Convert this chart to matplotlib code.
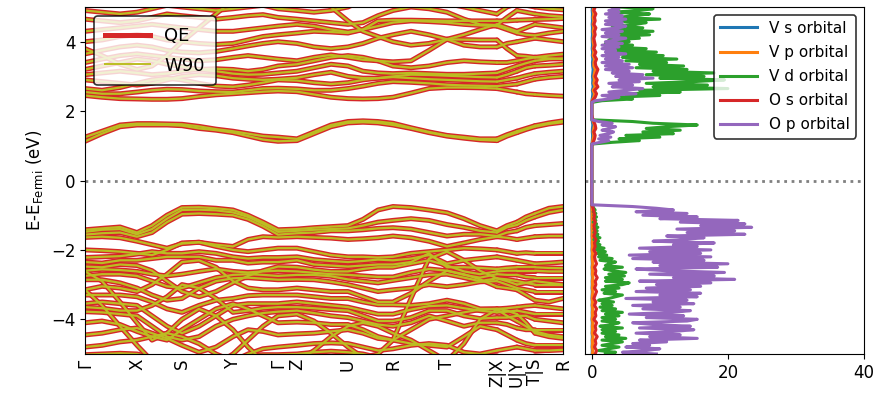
import numpy as np
import matplotlib
matplotlib.use("Agg")
import matplotlib.pyplot as plt
from matplotlib.lines import Line2D

# ── k-path: Γ-X-S-Y-Γ-Z-U-R-T-Z | X-U | Y-T | S-R ───────────────────────────
k_ticks  = [0.00, 0.52, 0.97, 1.48, 1.93, 2.12, 2.63, 3.08, 3.62, 4.12, 4.32, 4.50, 4.78]
k_labels = ["Γ", "X", "S", "Y", "Γ", "Z", "U", "R", "T", "Z|X", "U|Y", "T|S", "R"]

k_nodes = [0.00, 0.17, 0.35, 0.52, 0.67, 0.82, 0.97, 1.14, 1.31, 1.48, 1.63, 1.78,
           1.93, 2.12, 2.29, 2.46, 2.63, 2.78, 2.93, 3.08, 3.26, 3.44, 3.62, 3.79,
           3.95, 4.12,
           4.12, 4.22, 4.32,
           4.32, 4.41, 4.50,
           4.50, 4.64, 4.78]
segments = [(0, 26), (26, 29), (29, 32), (32, 35)]

# band energies in eV (E - E_F); 26 nodes on the main path, then 3 + 3 + 3
conduction = [
    [1.13, 1.35, 1.55, 1.60, 1.60, 1.60, 1.58, 1.50, 1.45, 1.38, 1.28, 1.18, 1.13, 1.15, 1.35, 1.55, 1.66, 1.68, 1.66, 1.60, 1.50, 1.38, 1.28, 1.22, 1.17, 1.15,
     1.15, 1.28, 1.38, 1.38, 1.47, 1.55, 1.55, 1.63, 1.68],
    [1.25, 1.42, 1.60, 1.64, 1.64, 1.63, 1.62, 1.56, 1.48, 1.42, 1.35, 1.28, 1.25, 1.20, 1.40, 1.60, 1.70, 1.72, 1.70, 1.65, 1.52, 1.40, 1.30, 1.25, 1.20, 1.20,
     1.20, 1.32, 1.42, 1.42, 1.50, 1.58, 1.58, 1.66, 1.72],
    [2.45, 2.40, 2.36, 2.35, 2.34, 2.34, 2.36, 2.42, 2.47, 2.50, 2.53, 2.56, 2.58, 2.56, 2.48, 2.40, 2.36, 2.35, 2.36, 2.40, 2.52, 2.65, 2.68, 2.68, 2.67, 2.65,
     2.65, 2.60, 2.55, 2.55, 2.50, 2.48, 2.48, 2.45, 2.43],
    [2.55, 2.50, 2.50, 2.55, 2.60, 2.63, 2.62, 2.58, 2.56, 2.55, 2.60, 2.65, 2.66, 2.64, 2.60, 2.60, 2.65, 2.72, 2.80, 2.85, 2.83, 2.80, 2.76, 2.74, 2.73, 2.72,
     2.72, 2.75, 2.78, 2.78, 2.85, 2.92, 2.92, 2.97, 3.00],
    [2.65, 2.60, 2.68, 2.80, 2.90, 2.95, 2.90, 2.80, 2.72, 2.70, 2.75, 2.82, 2.90, 2.88, 2.82, 2.78, 2.82, 2.90, 2.95, 2.98, 2.95, 2.92, 2.90, 2.88, 2.86, 2.85,
     2.85, 2.90, 2.95, 2.95, 3.02, 3.08, 3.08, 3.12, 3.15],
    [2.90, 2.85, 2.80, 2.75, 2.80, 2.90, 3.00, 3.05, 3.02, 2.95, 2.92, 2.90, 2.92, 2.96, 3.05, 3.12, 3.00, 2.95, 2.95, 3.00, 3.05, 3.04, 3.02, 3.00, 2.98, 2.97,
     2.97, 3.05, 3.15, 3.15, 3.25, 3.30, 3.30, 3.32, 3.35],
    [3.05, 3.10, 3.15, 3.10, 3.05, 3.08, 3.15, 3.20, 3.15, 3.08, 3.05, 3.06, 3.10, 3.15, 3.25, 3.35, 3.30, 3.15, 3.10, 3.08, 3.10, 3.08, 3.06, 3.06, 3.08, 3.10,
     3.10, 3.20, 3.30, 3.30, 3.38, 3.45, 3.45, 3.50, 3.52],
    [3.20, 3.30, 3.40, 3.50, 3.45, 3.35, 3.28, 3.20, 3.22, 3.20, 3.15, 3.20, 3.30, 3.35, 3.45, 3.55, 3.60, 3.55, 3.45, 3.30, 3.25, 3.30, 3.40, 3.45, 3.42, 3.40,
     3.40, 3.40, 3.45, 3.45, 3.50, 3.55, 3.55, 3.60, 3.64],
    [3.40, 3.50, 3.60, 3.65, 3.60, 3.55, 3.50, 3.45, 3.48, 3.55, 3.60, 3.55, 3.50, 3.45, 3.55, 3.62, 3.55, 3.48, 3.45, 3.42, 3.45, 3.75, 4.07, 4.06, 4.05, 4.05,
     4.05, 3.80, 3.60, 3.60, 3.58, 3.55, 3.55, 3.52, 3.50],
    [3.65, 3.75, 3.85, 3.90, 3.85, 3.75, 3.70, 3.68, 3.72, 3.80, 3.88, 3.95, 4.00, 3.95, 3.85, 3.80, 3.85, 3.95, 4.10, 4.20, 4.30, 4.20, 4.07, 3.90, 3.85, 3.85,
     3.85, 3.95, 4.00, 4.00, 4.05, 4.10, 4.10, 4.05, 4.00],
    [4.00, 4.05, 4.15, 4.20, 4.15, 4.05, 4.00, 3.95, 3.92, 3.95, 4.05, 4.15, 4.20, 4.25, 4.30, 4.28, 4.25, 4.35, 4.45, 4.55, 4.60, 4.58, 4.55, 4.50, 4.47, 4.45,
     4.45, 4.35, 4.25, 4.25, 4.20, 4.18, 4.18, 4.25, 4.30],
    [4.30, 4.35, 4.40, 4.45, 4.50, 4.45, 4.40, 4.35, 4.30, 4.30, 4.35, 4.40, 4.45, 4.50, 4.45, 4.35, 4.28, 4.35, 4.60, 4.62, 4.62, 4.61, 4.60, 4.60, 4.60, 4.60,
     4.60, 4.60, 4.62, 4.62, 4.63, 4.64, 4.64, 4.65, 4.67],
    [4.65, 4.60, 4.55, 4.60, 4.70, 4.80, 4.75, 4.70, 4.65, 4.70, 4.75, 4.78, 4.70, 4.65, 4.60, 4.55, 4.50, 4.55, 4.75, 4.90, 5.00, 4.95, 4.85, 4.65, 4.50, 4.48,
     4.48, 4.70, 4.90, 4.90, 4.85, 4.80, 4.80, 4.75, 4.72],
    [4.90, 4.85, 4.80, 4.85, 4.95, 5.05, 5.00, 4.95, 4.90, 4.95, 5.00, 5.05, 4.95, 4.90, 4.85, 4.90, 5.00, 5.20, 5.30, 5.30, 5.30, 5.20, 5.10, 5.00, 4.90, 4.80,
     4.80, 5.00, 5.10, 5.10, 5.05, 5.00, 5.00, 4.95, 4.92],
    [3.80, 3.60, 3.35, 3.20, 3.30, 3.60, 4.00, 4.40, 4.80, 5.20, 5.40, 5.50, 5.50, 5.50, 5.30, 5.00, 4.60, 4.30, 4.15, 4.00, 3.90, 3.95, 4.07, 4.20, 4.35, 4.50,
     4.50, 4.40, 4.30, 4.30, 4.40, 4.50, 4.50, 4.45, 4.40],
]

valence = [
    [-1.42, -1.38, -1.34, -1.50, -1.30, -1.00, -0.78, -0.77, -0.80, -0.85, -1.00, -1.20, -1.42, -1.40, -1.36, -1.33, -1.30, -1.12, -0.85, -0.75, -0.78, -0.85, -0.93, -1.10, -1.30, -1.45,
     -1.45, -1.30, -1.20, -1.20, -1.05, -0.95, -0.95, -0.80, -0.75],
    [-1.48, -1.42, -1.40, -1.55, -1.40, -1.10, -0.85, -0.84, -0.86, -0.92, -1.05, -1.25, -1.48, -1.45, -1.42, -1.40, -1.38, -1.30, -1.20, -1.15, -1.10, -1.15, -1.27, -1.35, -1.45, -1.50,
     -1.50, -1.35, -1.28, -1.28, -1.15, -1.05, -1.05, -0.92, -0.85],
    [-1.56, -1.52, -1.50, -1.62, -1.50, -1.20, -0.97, -0.95, -0.97, -1.00, -1.12, -1.32, -1.56, -1.52, -1.50, -1.45, -1.45, -1.42, -1.38, -1.36, -1.40, -1.50, -1.60, -1.55, -1.55, -1.60,
     -1.60, -1.50, -1.45, -1.45, -1.35, -1.30, -1.30, -1.27, -1.24],
    [-1.64, -1.62, -1.65, -1.75, -1.85, -1.95, -1.82, -1.78, -1.85, -1.90, -1.70, -1.62, -1.64, -1.62, -1.64, -1.66, -1.70, -1.68, -1.65, -1.60, -1.65, -1.75, -1.90, -1.80, -1.70, -1.62,
     -1.62, -1.65, -1.70, -1.70, -1.66, -1.62, -1.62, -1.60, -1.60],
    [-2.00, -2.02, -2.05, -2.10, -2.15, -2.00, -1.80, -1.78, -1.90, -2.00, -2.05, -2.00, -1.95, -1.95, -2.05, -2.15, -2.20, -2.20, -2.22, -2.20, -2.10, -2.05, -2.00, -1.95, -1.97, -2.00,
     -2.00, -2.05, -2.10, -2.10, -2.08, -2.10, -2.10, -2.10, -2.10],
    [-2.22, -2.20, -2.18, -2.12, -2.05, -2.10, -2.10, -2.05, -2.10, -2.20, -2.25, -2.22, -2.22, -2.20, -2.28, -2.32, -2.35, -2.32, -2.28, -2.30, -2.25, -2.15, -2.40, -2.30, -2.25, -2.20,
     -2.20, -2.25, -2.30, -2.30, -2.35, -2.40, -2.40, -2.38, -2.35],
    [-2.35, -2.38, -2.30, -2.30, -2.25, -2.20, -2.20, -2.20, -2.30, -2.30, -2.38, -2.35, -2.35, -2.30, -2.42, -2.45, -2.48, -2.45, -2.42, -2.42, -2.35, -2.10, -2.50, -2.50, -2.52, -2.55,
     -2.55, -2.52, -2.50, -2.50, -2.50, -2.50, -2.50, -2.52, -2.53],
    [-2.48, -2.50, -2.42, -2.45, -2.60, -2.90, -3.20, -3.35, -3.20, -2.95, -2.75, -2.60, -2.48, -2.50, -2.57, -2.62, -2.62, -2.55, -2.50, -2.50, -2.40, -2.30, -2.45, -2.62, -2.70, -2.62,
     -2.62, -2.60, -2.60, -2.60, -2.60, -2.60, -2.60, -2.62, -2.62],
    [-2.60, -2.56, -2.58, -2.62, -2.70, -2.75, -2.70, -2.62, -2.55, -2.62, -2.65, -2.62, -2.60, -2.62, -2.66, -2.70, -2.72, -2.75, -2.78, -2.78, -2.65, -2.55, -2.60, -2.72, -2.80, -2.70,
     -2.70, -2.72, -2.72, -2.72, -2.78, -2.80, -2.80, -2.80, -2.80],
    [-2.75, -2.70, -2.70, -2.75, -2.90, -3.05, -3.10, -2.95, -2.80, -2.72, -2.70, -2.72, -2.75, -2.72, -2.72, -2.76, -2.85, -2.90, -2.95, -2.88, -2.80, -2.72, -2.70, -2.80, -2.90, -2.82,
     -2.82, -2.85, -2.90, -2.90, -2.95, -3.00, -3.00, -3.00, -3.00],
    [-2.86, -2.86, -2.95, -3.10, -3.30, -3.45, -3.40, -3.10, -2.90, -2.82, -2.80, -2.83, -2.86, -2.85, -2.86, -2.92, -3.00, -3.10, -3.20, -3.15, -3.10, -3.00, -3.06, -3.00, -2.92, -2.90,
     -2.90, -3.00, -3.10, -3.10, -3.15, -3.20, -3.20, -3.20, -3.20],
    [-3.15, -3.05, -3.10, -3.20, -3.00, -2.70, -2.35, -2.30, -2.50, -2.90, -3.10, -3.15, -3.15, -3.10, -3.15, -3.20, -3.20, -3.35, -3.50, -3.50, -3.25, -2.90, -2.60, -2.70, -2.85, -3.06,
     -3.06, -3.10, -3.15, -3.15, -3.30, -3.45, -3.45, -3.50, -3.40],
    [-3.30, -3.30, -3.30, -3.35, -3.50, -3.70, -3.80, -3.60, -3.45, -3.40, -3.32, -3.30, -3.30, -3.30, -3.35, -3.40, -3.40, -3.50, -3.58, -3.58, -3.60, -3.55, -3.45, -3.55, -3.70, -3.70,
     -3.70, -3.68, -3.65, -3.65, -3.62, -3.60, -3.60, -3.65, -3.70],
    [-3.55, -3.50, -3.55, -3.60, -3.90, -4.20, -4.40, -4.20, -3.90, -3.60, -3.55, -3.55, -3.55, -3.50, -3.55, -3.60, -3.65, -3.75, -3.85, -3.85, -3.72, -3.62, -3.60, -3.68, -3.75, -3.80,
     -3.80, -3.78, -3.75, -3.75, -3.80, -3.85, -3.85, -3.85, -3.85],
    [-3.65, -3.68, -3.75, -3.75, -3.60, -3.35, -3.00, -3.10, -3.40, -3.80, -3.75, -3.68, -3.65, -3.65, -3.68, -3.72, -3.75, -3.90, -4.05, -4.05, -3.95, -3.75, -3.75, -3.90, -3.98, -3.95,
     -3.95, -3.95, -3.90, -3.90, -3.90, -4.00, -4.00, -4.05, -4.10],
    [-3.78, -3.80, -3.85, -3.90, -4.20, -4.50, -4.60, -4.50, -4.20, -4.00, -3.90, -3.82, -3.78, -3.75, -3.82, -3.90, -3.95, -4.05, -4.15, -4.20, -4.10, -3.90, -4.05, -4.20, -4.10, -4.10,
     -4.10, -4.15, -4.25, -4.25, -4.30, -4.30, -4.30, -4.30, -4.30],
    [-4.10, -4.05, -4.15, -4.35, -4.50, -4.60, -4.30, -4.00, -3.70, -3.55, -3.70, -3.90, -4.10, -4.08, -4.10, -4.15, -4.15, -4.30, -4.50, -4.60, -4.30, -4.00, -3.90, -3.80, -3.72, -3.70,
     -3.70, -3.75, -3.85, -3.85, -4.10, -4.40, -4.40, -4.50, -4.55],
    [-4.45, -4.40, -4.30, -4.25, -4.40, -4.55, -4.75, -4.95, -4.80, -4.50, -4.30, -4.35, -4.45, -4.42, -4.40, -4.35, -4.30, -4.40, -4.55, -4.60, -4.70, -4.75, -4.80, -4.50, -4.20, -4.30,
     -4.30, -4.45, -4.60, -4.60, -4.70, -4.75, -4.75, -4.75, -4.75],
    [-4.80, -4.75, -4.65, -4.60, -4.50, -4.40, -4.50, -4.70, -5.00, -5.20, -5.00, -4.85, -4.80, -4.75, -4.70, -4.68, -4.70, -4.80, -4.90, -4.85, -4.75, -4.70, -4.75, -4.95, -5.00, -4.90,
     -4.90, -4.85, -4.80, -4.80, -4.85, -4.90, -4.90, -4.90, -4.88],
    [-5.02, -5.00, -4.98, -5.00, -5.10, -5.20, -5.30, -5.40, -5.30, -5.15, -5.05, -5.02, -5.02, -5.00, -4.95, -4.92, -4.95, -5.00, -5.10, -5.20, -5.30, -5.30, -5.20, -5.10, -5.05, -5.05,
     -5.05, -5.05, -5.05, -5.05, -5.05, -5.05, -5.05, -5.08, -5.10],
    [-3.15, -3.60, -4.20, -4.75, -5.20, -5.50, -5.50, -5.50, -5.30, -5.00, -4.60, -4.20, -3.90, -3.85, -4.05, -4.40, -4.80, -5.10, -5.00, -4.60, -3.40, -2.25, -2.05, -2.30, -2.60, -2.82,
     -2.82, -2.90, -3.00, -3.00, -2.95, -2.90, -2.90, -2.95, -3.00],
    [-2.62, -2.90, -3.50, -4.10, -4.60, -4.40, -4.00, -3.70, -3.90, -4.30, -4.80, -5.20, -5.30, -5.20, -4.90, -4.50, -4.20, -4.10, -4.20, -4.40, -4.60, -4.90, -5.20, -4.70, -4.00, -3.72,
     -3.72, -3.90, -4.05, -4.05, -4.20, -4.35, -4.35, -4.45, -4.50],
]

# ── projected DOS ─────────────────────────────────────────────────────────────
# V d and O p on a 0.05 eV grid, the small channels on a 0.1 eV grid
e_fine   = np.linspace(-5.0, 5.0, 201)
e_coarse = np.linspace(-5.0, 5.0, 101)
gap_fine   = [0.0] * 34   # -0.65 … 1.00 eV
gap_coarse = [0.0] * 17   # -0.6 … 1.0 eV

op_val = [9.5, 4.5, 8.0, 10.0, 5.0, 8.5, 6.0, 11.0, 7.0, 15.5,
          8.5, 13.0, 6.5, 12.0, 15.0, 7.0, 14.5, 9.0, 6.0, 14.0,
          15.5, 8.0, 13.5, 5.5, 12.0, 14.5, 7.5, 13.0, 6.0, 15.0,
          9.0, 14.0, 5.0, 15.5, 10.0, 16.0, 6.5, 14.5, 8.0, 16.0,
          9.5, 17.5, 7.0, 21.0, 12.0, 18.0, 8.5, 19.5, 11.0, 6.5,
          18.5, 10.0, 20.0, 9.0, 16.5, 6.0, 17.5, 5.5, 16.0, 8.5,
          17.5, 7.0, 15.5, 12.0, 18.0, 9.0, 13.5, 16.5, 11.0, 22.5,
          14.0, 21.0, 12.5, 23.5, 16.0, 22.5, 13.0, 21.5, 10.0, 15.5,
          7.5, 14.0, 6.5, 12.0, 9.5, 6.0, 0.0]
op_con = [0.0, 1.2, 2.5, 1.0, 2.8, 1.2, 2.5, 3.2, 1.5, 2.6,
          3.5, 1.5, 3.0, 1.0, 0.0, 0.0, 0.0, 0.0, 0.0, 0.0,
          0.0, 0.0, 0.0, 0.0, 0.0, 0.5, 2.5, 4.0, 1.5, 6.5,
          2.5, 5.0, 7.5, 3.0, 6.0, 2.5, 7.0, 4.0, 9.0, 3.5,
          7.5, 3.0, 5.5, 2.0, 6.0, 2.0, 5.5, 1.5, 4.5, 2.0,
          4.0, 1.5, 5.0, 2.0, 3.5, 1.5, 4.0, 1.5, 4.5, 2.0,
          3.5, 5.0, 1.5, 4.0, 2.0, 4.5, 1.5, 4.0, 5.0, 2.0,
          4.5, 2.0, 5.0, 2.5, 4.5, 2.0, 4.0, 2.5, 4.0, 3.0]

vd_val = [2.0, 3.5, 1.0, 2.5, 4.0, 1.5, 3.0, 4.5, 1.5, 5.0,
          2.0, 4.0, 1.5, 3.5, 1.5, 4.5, 1.2, 3.0, 4.0, 1.5,
          3.5, 1.5, 4.0, 2.0, 4.5, 1.5, 3.5, 1.2, 3.0, 1.5,
          3.2, 1.0, 2.5, 3.5, 4.5, 1.8, 3.5, 1.5, 4.0, 2.0,
          4.5, 5.5, 2.0, 4.5, 2.0, 4.8, 2.5, 5.0, 3.0, 1.8,
          4.5, 2.0, 2.5, 3.5, 1.2, 3.0, 1.0, 2.2, 0.8, 2.0,
          0.6, 1.8, 0.5, 1.2, 0.4, 1.0, 0.3, 1.2, 0.4, 0.9,
          0.3, 0.8, 0.3, 0.9, 0.4, 0.7, 0.2, 0.6, 0.3, 0.7,
          0.3, 0.6, 0.2, 0.5, 0.3, 0.2, 0.0]
vd_con = [0.0, 3.0, 7.0, 4.0, 10.0, 5.0, 12.0, 7.5, 13.0, 8.0,
          11.0, 15.5, 9.0, 6.0, 0.0, 0.0, 0.0, 0.0, 0.0, 0.0,
          0.0, 0.0, 0.0, 0.0, 0.0, 1.5, 6.0, 3.0, 10.0, 5.0,
          13.0, 7.0, 20.0, 9.0, 17.0, 8.0, 15.0, 19.5, 10.0, 16.5,
          8.0, 18.0, 9.0, 14.0, 6.5, 13.5, 7.0, 11.0, 5.0, 12.5,
          4.5, 10.5, 3.5, 9.5, 3.0, 8.0, 2.5, 6.0, 2.0, 5.5,
          2.5, 7.0, 3.0, 8.5, 3.5, 9.0, 2.5, 7.5, 3.0, 6.5,
          8.0, 3.0, 10.0, 4.0, 6.0, 8.5, 3.0, 7.0, 9.0, 4.0]

os_val = [0.5, 0.7, 0.4, 0.6, 0.5, 0.8, 0.4, 0.6, 0.5, 0.7, 0.3, 0.6, 0.5, 0.7, 0.4, 0.6,
          0.3, 0.5, 0.7, 0.4, 0.6, 0.5, 0.8, 0.5, 0.6, 0.4, 0.7, 0.5, 0.4, 0.6, 0.3, 0.5,
          0.4, 0.6, 0.3, 0.5, 0.4, 0.3, 0.5, 0.3, 0.4, 0.3, 0.2, 0.0]
os_con = [0.2, 0.4, 0.5, 0.3, 0.6, 0.5, 0.3, 0.1, 0.0, 0.0, 0.0, 0.0, 0.1, 0.5, 0.7, 0.4,
          0.9, 0.6, 0.8, 0.5, 0.7, 0.9, 0.6, 0.5, 0.7, 0.4, 0.6, 0.3, 0.5, 0.4, 0.3, 0.5,
          0.4, 0.6, 0.3, 0.5, 0.4, 0.6, 0.3, 0.5]

vp_val = [0.10, 0.15, 0.08, 0.12, 0.10, 0.18, 0.08, 0.12, 0.10, 0.15, 0.06, 0.12, 0.10,
          0.14, 0.08, 0.12, 0.06, 0.10, 0.15, 0.08, 0.12, 0.10, 0.16, 0.10, 0.12, 0.08,
          0.14, 0.10, 0.08, 0.12, 0.06, 0.10, 0.08, 0.10, 0.06, 0.08, 0.06, 0.05, 0.08,
          0.05, 0.06, 0.05, 0.03, 0.0]
vp_con = [0.1, 0.2, 0.3, 0.2, 0.3, 0.4, 0.2, 0.05, 0.0, 0.0, 0.0, 0.0, 0.05, 0.3, 0.4,
          0.2, 0.5, 0.3, 0.4, 0.3, 0.4, 0.5, 0.3, 0.3, 0.4, 0.2, 0.3, 0.2, 0.3, 0.2, 0.2,
          0.3, 0.2, 0.3, 0.2, 0.3, 0.2, 0.3, 0.2, 0.3]

vs_val = [0.05, 0.08, 0.04, 0.06, 0.05, 0.08, 0.04, 0.06, 0.05, 0.07, 0.03, 0.06, 0.05,
          0.07, 0.04, 0.06, 0.03, 0.05, 0.07, 0.04, 0.06, 0.05, 0.08, 0.05, 0.06, 0.04,
          0.07, 0.05, 0.04, 0.06, 0.03, 0.05, 0.04, 0.05, 0.03, 0.04, 0.03, 0.03, 0.04,
          0.03, 0.03, 0.02, 0.01, 0.0]
vs_con = [0.05, 0.1, 0.12, 0.08, 0.1, 0.15, 0.08, 0.02, 0.0, 0.0, 0.0, 0.0, 0.02, 0.1,
          0.15, 0.08, 0.2, 0.12, 0.15, 0.1, 0.15, 0.2, 0.12, 0.1, 0.15, 0.08, 0.12, 0.06,
          0.1, 0.08, 0.06, 0.1, 0.08, 0.1, 0.06, 0.1, 0.08, 0.1, 0.06, 0.1]

orbitals   = ["V s orbital", "V p orbital", "V d orbital", "O s orbital", "O p orbital"]
orb_colors = ["tab:blue", "tab:orange", "tab:green", "tab:red", "tab:purple"]
orb_dos = [(e_coarse, vs_val + gap_coarse + vs_con),
           (e_coarse, vp_val + gap_coarse + vp_con),
           (e_fine,   vd_val + gap_fine + vd_con),
           (e_coarse, os_val + gap_coarse + os_con),
           (e_fine,   op_val + gap_fine + op_con)]

# ── figure ────────────────────────────────────────────────────────────────────
fig = plt.figure(figsize=(8.81, 4.03), dpi=100)
ax_b = fig.add_axes([0.0965, 0.1216, 0.5425, 0.861])
ax_d = fig.add_axes([0.664, 0.1216, 0.3167, 0.861])

kx = np.array(k_nodes)
bands = np.array(valence + conduction)

# QE bands first (thick red), Wannier-interpolated bands on top (thin olive)
for color, lw in [("tab:red", 3.6), ("tab:olive", 1.6)]:
    for band in bands:
        for a, b in segments:
            ax_b.plot(kx[a:b], band[a:b], color=color, lw=lw,
                      solid_joinstyle="round", solid_capstyle="round")

ax_b.axhline(0, color="grey", ls=":", lw=2)
ax_b.set_xlim(k_ticks[0], k_ticks[-1])
ax_b.set_ylim(-5, 5)
ax_b.set_xticks(k_ticks)
ax_b.set_xticklabels(k_labels, rotation=90, fontsize=12)
ax_b.tick_params(axis="x", length=0)
ax_b.tick_params(axis="y", labelsize=12)
ax_b.set_yticks([-4, -2, 0, 2, 4])
ax_b.set_ylabel(r"E-E$_{\rm Fermi}$ (eV)", fontsize=12)
handles = [Line2D([], [], color="tab:red", lw=3.6, label="QE"),
           Line2D([], [], color="tab:olive", lw=1.4, label="W90")]
leg = ax_b.legend(handles=handles, loc="upper left", fontsize=13, edgecolor="k",
                  handlelength=2.5, labelspacing=0.65, borderpad=0.6)
leg.get_frame().set_linewidth(1.2)

for name, col, (en, dos) in zip(orbitals, orb_colors, orb_dos):
    ax_d.plot(dos, en, color=col, lw=2.2, label=name)
ax_d.axhline(0, color="grey", ls=":", lw=2)
ax_d.set_ylim(-5, 5)
ax_d.set_xlim(-1, 40)
ax_d.set_xticks([0, 20, 40])
ax_d.tick_params(axis="x", labelsize=12)
ax_d.tick_params(axis="y", left=False, labelleft=False)
leg2 = ax_d.legend(loc="upper right", fontsize=11, edgecolor="k",
                   handlelength=2.4, labelspacing=0.6)
leg2.get_frame().set_linewidth(1.2)

fig.savefig("out.png", dpi=100)
